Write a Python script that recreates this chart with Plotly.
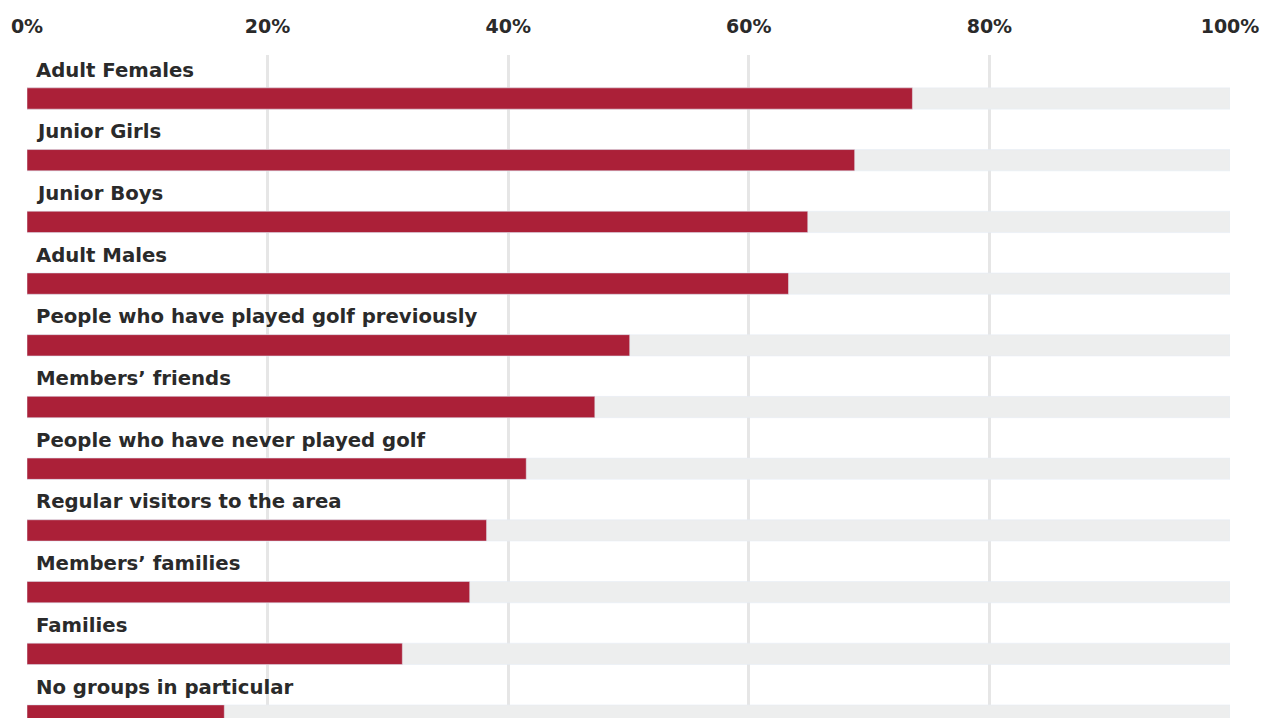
import plotly.graph_objects as go

categories = [
    "Adult Females",
    "Junior Girls",
    "Junior Boys",
    "Adult Males",
    "People who have played golf previously",
    "Members\u2019 friends",
    "People who have never played golf",
    "Regular visitors to the area",
    "Members\u2019 families",
    "Families",
    "No groups in particular",
]
values = [73.6, 68.8, 64.9, 63.3, 50.1, 47.2, 41.5, 38.2, 36.8, 31.2, 16.4]
full = [100] * len(categories)
tick_vals = [0, 20, 40, 60, 80, 100]
tick_text = ["0%", "20%", "40%", "60%", "80%", "100%"]

pos = list(range(len(categories)))
FONT = "DejaVu Sans"

fig = go.Figure()
fig.add_trace(go.Bar(x=full, y=pos, orientation="h", marker_color="#EDEEEE",
                     width=0.345, hoverinfo="skip", showlegend=False))
fig.add_trace(go.Bar(x=values, y=pos, orientation="h", marker_color="#AB2038",
                     width=0.345, hoverinfo="skip", showlegend=False))

for p, c in zip(pos, categories):
    fig.add_annotation(x=0, y=p, xref="x", yref="y", text=c, showarrow=False,
                       xanchor="left", yanchor="bottom", xshift=7, yshift=15,
                       font=dict(family=FONT, size=19.7, color="#2A2A2A", weight="bold"))

fig.update_layout(
    width=1261, height=718,
    margin=dict(l=27, r=31, t=55, b=0),
    paper_bgcolor="white", plot_bgcolor="white",
    barmode="overlay",
    xaxis=dict(range=[0, 100], side="top", tickvals=tick_vals, ticktext=tick_text,
               showgrid=True, gridcolor="#E6E6E6", gridwidth=2.5, zeroline=False,
               showline=False, ticks="outside", ticklen=13, tickcolor="rgba(0,0,0,0)",
               tickfont=dict(family=FONT, size=19, color="#2A2A2A", weight="bold"),
               fixedrange=True),
    yaxis=dict(range=[10.04, -0.705], showticklabels=False, showgrid=False,
               zeroline=False, showline=False, fixedrange=True),
)

fig.write_html("out.html")
